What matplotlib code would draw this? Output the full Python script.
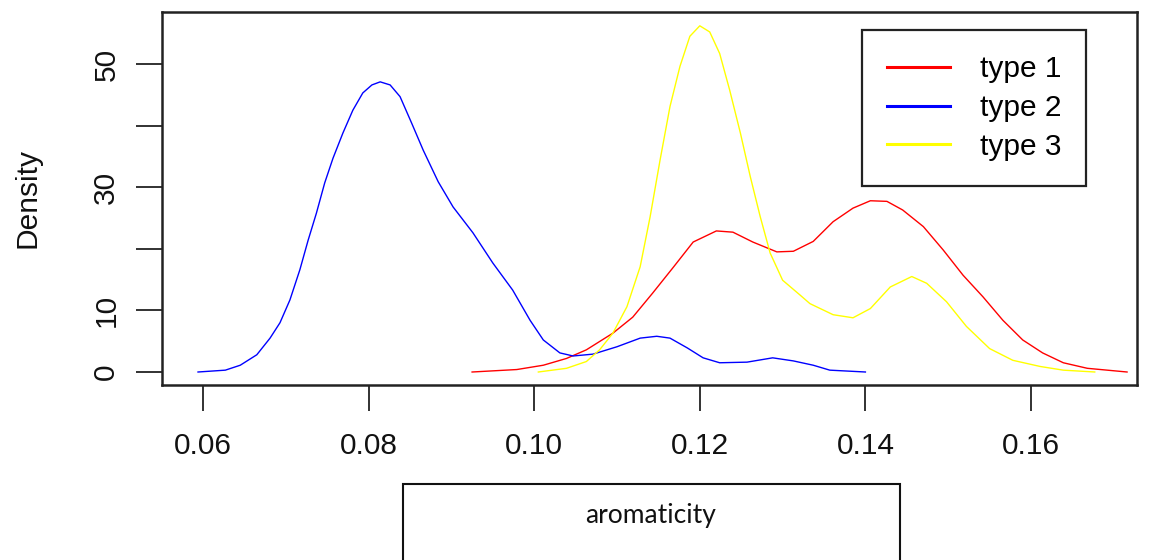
import matplotlib
matplotlib.use('Agg')
import matplotlib.pyplot as plt
from matplotlib.patches import Rectangle

# density curves
type1_x = [0.0925, 0.0979, 0.1011, 0.1039, 0.1063, 0.1095, 0.1119, 0.1143, 0.1168, 0.1192,
           0.1220, 0.1240, 0.1264, 0.1293, 0.1313, 0.1337, 0.1361, 0.1385, 0.1406, 0.1426,
           0.1445, 0.1470, 0.1494, 0.1518, 0.1542, 0.1566, 0.1590, 0.1614, 0.1639, 0.1668, 0.1716]
type1_y = [0.0, 0.4, 1.1, 2.2, 3.6, 6.3, 8.9, 12.8, 17.0, 21.1,
           22.9, 22.7, 21.1, 19.5, 19.6, 21.2, 24.4, 26.6, 27.8, 27.7,
           26.3, 23.6, 19.8, 15.7, 12.2, 8.4, 5.2, 3.1, 1.5, 0.6, 0.0]

type2_x = [0.0594, 0.0627, 0.0645, 0.0665, 0.0681, 0.0693, 0.0705, 0.0717, 0.0727, 0.0737,
           0.0747, 0.0757, 0.0769, 0.0781, 0.0793, 0.0804, 0.0814, 0.0826, 0.0838, 0.0852,
           0.0866, 0.0884, 0.0902, 0.0926, 0.0950, 0.0974, 0.0995, 0.1011, 0.1031, 0.1047,
           0.1071, 0.1100, 0.1128, 0.1148, 0.1164, 0.1185, 0.1204, 0.1224, 0.1257, 0.1288,
           0.1313, 0.1337, 0.1357, 0.1400]
type2_y = [0.0, 0.3, 1.1, 2.8, 5.5, 8.0, 11.7, 16.6, 21.4, 25.8,
           30.7, 34.7, 38.8, 42.5, 45.3, 46.6, 47.1, 46.6, 44.7, 40.4,
           36.0, 30.9, 26.8, 22.6, 17.7, 13.3, 8.4, 5.2, 3.1, 2.6,
           2.9, 4.1, 5.5, 5.8, 5.5, 3.9, 2.3, 1.5, 1.6, 2.3,
           1.8, 1.1, 0.3, 0.0]

type3_x = [0.1005, 0.1039, 0.1063, 0.1079, 0.1095, 0.1112, 0.1128, 0.1140, 0.1152, 0.1164,
           0.1176, 0.1188, 0.1200, 0.1212, 0.1224, 0.1236, 0.1249, 0.1261, 0.1273, 0.1285,
           0.1300, 0.1321, 0.1333, 0.1361, 0.1385, 0.1406, 0.1430, 0.1456, 0.1474, 0.1498,
           0.1522, 0.1550, 0.1578, 0.1611, 0.1639, 0.1677]
type3_y = [0.0, 0.6, 1.7, 3.6, 6.3, 10.6, 17.1, 25.2, 34.4, 43.1,
           49.6, 54.5, 56.2, 55.2, 51.7, 45.8, 38.8, 31.7, 25.2, 19.3,
           14.9, 12.5, 11.1, 9.3, 8.8, 10.3, 13.8, 15.5, 14.4, 11.4,
           7.4, 3.8, 1.9, 0.9, 0.3, 0.0]

labels = ['type 1', 'type 2', 'type 3']
colors = ['#ff0000', '#0000ff', '#ffff00']

xticks = [0.06, 0.08, 0.10, 0.12, 0.14, 0.16]
yticks = [0, 10, 20, 30, 40, 50]
ytick_labels = ['0', '10', '', '30', '', '50']

plt.rcParams['font.family'] = ['Liberation Sans', 'DejaVu Sans']
fs = 21.5

fig = plt.figure(figsize=(11.52, 5.6), dpi=100)
ax = fig.add_axes([162/1152, 1-385/560, 975/1152, 373/560])

series = [(type1_x, type1_y), (type2_x, type2_y), (type3_x, type3_y)]
for (xs, ys), lab, c in zip(series, labels, colors):
    ax.plot(xs, ys, color=c, lw=1.0, label=lab)

ax.set_xlim(0.05505, 0.1728)
ax.set_ylim(-2.11, 58.44)
ax.set_xticks(xticks)
ax.set_xticklabels(['%.2f' % v for v in xticks])
ax.set_yticks(yticks)
ax.set_yticklabels(ytick_labels, rotation=90, va='center')
ax.tick_params(axis='both', direction='out', length=19, width=1.3, colors='#222222',
               labelsize=fs, labelcolor='#111111')
ax.tick_params(axis='x', pad=15)
ax.tick_params(axis='y', pad=11)
for s in ax.spines.values():
    s.set_linewidth(1.8)
    s.set_color('#222222')

ax.set_ylabel('Density', fontsize=fs, color='#111111')
ax.yaxis.set_label_coords(-0.124, 0.5)

leg_lines = [plt.Line2D([], [], color=c, lw=2.2) for c in colors]
leg = ax.legend(leg_lines, labels, loc='upper left', bbox_to_anchor=(0.7175, 0.952),
                fontsize=fs, frameon=True, fancybox=False, framealpha=1,
                edgecolor='#222222', borderpad=0.85, labelspacing=0.36,
                handlelength=2.1, handletextpad=1.0, borderaxespad=0)
leg.get_frame().set_linewidth(1.6)

# caption box below the axis
fig.patches.append(Rectangle((403/1152, -0.1), 497/1152, 0.1 + 1 - 484/560,
                             transform=fig.transFigure, fill=False,
                             edgecolor='#111111', lw=1.5))
fig.text(651/1152, 1 - 516/560, 'aromaticity', ha='center', va='center',
         fontsize=19, family=['Lato', 'DejaVu Sans'], color='#111111')

fig.savefig('out.png', dpi=100)
